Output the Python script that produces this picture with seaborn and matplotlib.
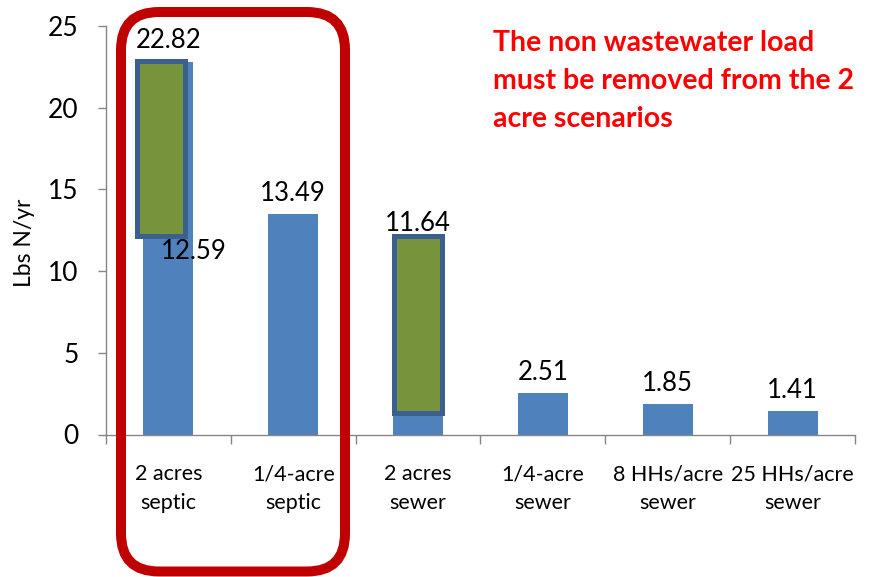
import numpy as np
import pandas as pd
import matplotlib.pyplot as plt
import seaborn as sns
from matplotlib.patches import FancyBboxPatch
from matplotlib.transforms import IdentityTransform

# --- DATA ---
scenarios = [
    "2 acres\nseptic",
    "1/4-acre\nseptic",
    "2 acres\nsewer",
    "1/4-acre\nsewer",
    "8 HHs/acre\nsewer",
    "25 HHs/acre\nsewer",
]
loads = [22.82, 13.49, 11.64, 2.51, 1.85, 1.41]

# non wastewater part of the load, highlighted on the 2 acre scenarios
highlight_scenarios = ["2 acres\nseptic", "2 acres\nsewer"]
highlight_low = [12.12, 1.30]
highlight_high = [22.85, 12.12]

# wastewater-only load for 2 acres septic
ww_scenario = "2 acres\nseptic"
ww_value = 12.59

note = "The non wastewater load\nmust be removed from the 2\nacre scenarios"

# --- Styling ---
BLUE = "#4F81BD"
GREEN = "#77933C"
EDGE = "#3B5F8E"
GREY = "#868686"
sns.set_theme(style="white")
plt.rcParams["font.family"] = ["Lato", "DejaVu Sans"]

W, H = 874, 577
fig = plt.figure(figsize=(W / 100, H / 100), dpi=100)
ax = fig.add_axes([106 / W, 1 - 434.5 / H, 749 / W, 408.5 / H])

df = pd.DataFrame({"Scenario": scenarios, "Load": loads})
sns.barplot(
    data=df, x="Scenario", y="Load", color=BLUE, saturation=1,
    width=0.4, linewidth=0, ax=ax,
)

# highlighted boxes (first one sits a bit left of its bar)
shift = {"2 acres\nseptic": -0.06}
for cat, lo, hi in zip(highlight_scenarios, highlight_low, highlight_high):
    i = scenarios.index(cat)
    ax.bar(i + shift.get(cat, 0), hi - lo, bottom=lo, width=0.39,
           color=GREEN, edgecolor=EDGE, linewidth=3.6, zorder=3)

# value labels
for i, v in enumerate(loads):
    ax.annotate(f"{v:.2f}", (i, v), xytext=(0, 15), textcoords="offset points",
                ha="center", va="center", fontsize=18.5, color="black", zorder=5)
ax.annotate(f"{ww_value:.2f}", (scenarios.index(ww_scenario), ww_value),
            xytext=(18, -16), textcoords="offset points",
            ha="center", va="center", fontsize=18.5, color="black", zorder=5)

ax.set_xlim(-0.5, len(scenarios) - 0.5)
ax.set_ylim(0, 25)
ax.set_yticks(range(0, 26, 5))
ax.set_xlabel("")
ax.set_ylabel("Lbs N/yr", fontsize=16.5, color="black")
ax.yaxis.set_label_coords(-0.095, 0.47)

for s in ["top", "right"]:
    ax.spines[s].set_visible(False)
for s in ["left", "bottom"]:
    ax.spines[s].set_color(GREY)
    ax.spines[s].set_linewidth(1)

ax.tick_params(axis="y", length=5.8, width=1, color=GREY, pad=14,
               labelsize=19, labelcolor="black", left=True)
ax.set_xticks(np.arange(-0.5, len(scenarios), 1), minor=True)
ax.tick_params(axis="x", which="major", length=0, pad=21.5, labelsize=15.5,
               labelcolor="black")
ax.tick_params(axis="x", which="minor", length=6.5, width=1, color=GREY,
               bottom=True)
for lbl in ax.get_xticklabels():
    lbl.set_linespacing(1.55)

# red rounded frame around the septic scenarios
box = FancyBboxPatch((121, 5.5), 224, 559.5,
                     boxstyle="round,pad=0,rounding_size=38",
                     transform=IdentityTransform(), fill=False,
                     edgecolor="#C00000", linewidth=7.2)
fig.add_artist(box)

fig.text(493 / W, 1 - 30 / H, note, color="#FF0000", fontsize=20.5,
         fontweight="bold", ha="left", va="top", linespacing=1.58)

fig.savefig("out.png", dpi=100)
